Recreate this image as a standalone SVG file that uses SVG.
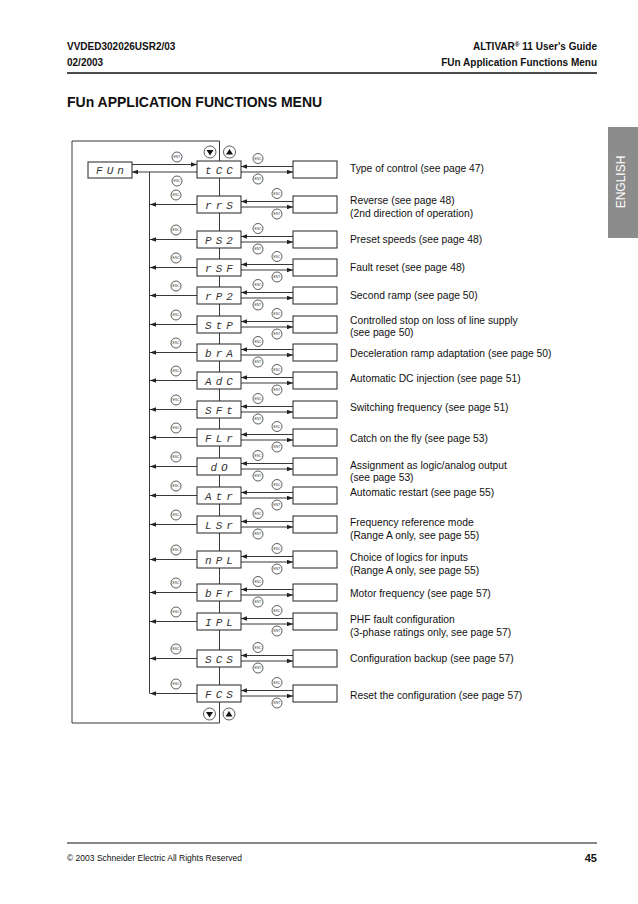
<svg xmlns="http://www.w3.org/2000/svg" width="638" height="904" viewBox="0 0 638 904">
<defs>
<marker id="ah" viewBox="0 0 8 6" markerUnits="userSpaceOnUse" markerWidth="6" markerHeight="4.5" refX="8" refY="3" orient="auto"><path d="M0,0 L8,3 L0,6 z" fill="#222"/></marker>
<style>
.box{fill:#fff;stroke:#222;stroke-width:1}
.ln{stroke:#222;stroke-width:0.9;fill:none}
.la{stroke:#222;stroke-width:0.9;fill:none;marker-end:url(#ah)}
.btn{fill:#fff;stroke:#333;stroke-width:0.8}
.bt{font-family:"Liberation Sans",Arial,sans-serif;font-size:3.4px;text-anchor:middle;fill:#333}
.seg{font-family:"Liberation Mono","Courier New",monospace;font-style:italic;font-size:11px;letter-spacing:4px;text-anchor:middle;fill:#333}
.lbl{font-family:"Liberation Sans",Arial,sans-serif;font-size:10.3px;fill:#111}
.hb{font-family:"Liberation Sans",Arial,sans-serif;font-size:10px;font-weight:bold;fill:#111}
</style>
</defs>
<rect width="638" height="904" fill="#fff"/>
<g id="header">
<text class="hb" x="67" y="50">VVDED302026USR2/03</text>
<text class="hb" x="67" y="66">02/2003</text>
<text class="hb" x="597" y="50" text-anchor="end">ALTIVAR<tspan font-size="6.5" dy="-3.5">®</tspan><tspan dy="3.5"> 11 User's Guide</tspan></text>
<text class="hb" x="597" y="66" text-anchor="end">FUn Application Functions Menu</text>
<line x1="67" y1="73" x2="597" y2="73" stroke="#111" stroke-width="1.5"/>
<text x="67" y="107" font-family="Liberation Sans,Arial,sans-serif" font-size="14" font-weight="bold" fill="#111">FUn APPLICATION FUNCTIONS MENU</text>
</g>
<g id="tab">
<rect x="608" y="127" width="30" height="111" fill="#8c8c8c"/>
<text x="624.5" y="182" transform="rotate(-90 624.5 182)" text-anchor="middle" font-family="Liberation Sans,Arial,sans-serif" font-size="12" fill="#fff">ENGLISH</text>
</g>
<g id="connectors">
<path class="ln" d="M219.5,161 V141 H72 V723 H219.5 V702"/>
<line class="ln" x1="219.5" y1="178" x2="219.5" y2="685"/>
<line class="ln" x1="149.5" y1="172" x2="149.5" y2="693.5"/>
<line class="la" x1="132" y1="164.5" x2="197" y2="164.5"/>
<line class="la" x1="197" y1="172" x2="132" y2="172"/>
<path class="la" d="M293,166.5 H241"/><path class="la" d="M241,172 H293"/>
<path class="la" d="M293,201.5 H241"/><path class="la" d="M241,207 H293"/><path class="la" d="M197,204.5 H150"/>
<path class="la" d="M293,236.5 H241"/><path class="la" d="M241,242 H293"/><path class="la" d="M197,239.5 H150"/>
<path class="la" d="M293,264.5 H241"/><path class="la" d="M241,270 H293"/><path class="la" d="M197,267.5 H150"/>
<path class="la" d="M293,292.5 H241"/><path class="la" d="M241,298 H293"/><path class="la" d="M197,295.5 H150"/>
<path class="la" d="M293,321.5 H241"/><path class="la" d="M241,327 H293"/><path class="la" d="M197,324.5 H150"/>
<path class="la" d="M293,349.5 H241"/><path class="la" d="M241,355 H293"/><path class="la" d="M197,352.5 H150"/>
<path class="la" d="M293,377.5 H241"/><path class="la" d="M241,383 H293"/><path class="la" d="M197,380.5 H150"/>
<path class="la" d="M293,406.5 H241"/><path class="la" d="M241,412 H293"/><path class="la" d="M197,409.5 H150"/>
<path class="la" d="M293,434.5 H241"/><path class="la" d="M241,440 H293"/><path class="la" d="M197,437.5 H150"/>
<path class="la" d="M293,463.5 H241"/><path class="la" d="M241,469 H293"/><path class="la" d="M197,466.5 H150"/>
<path class="la" d="M293,492.5 H241"/><path class="la" d="M241,498 H293"/><path class="la" d="M197,495.5 H150"/>
<path class="la" d="M293,521.5 H241"/><path class="la" d="M241,527 H293"/><path class="la" d="M197,524.5 H150"/>
<path class="la" d="M293,556.5 H241"/><path class="la" d="M241,562 H293"/><path class="la" d="M197,559.5 H150"/>
<path class="la" d="M293,589.5 H241"/><path class="la" d="M241,595 H293"/><path class="la" d="M197,592.5 H150"/>
<path class="la" d="M293,618.5 H241"/><path class="la" d="M241,624 H293"/><path class="la" d="M197,621.5 H150"/>
<path class="la" d="M293,655.5 H241"/><path class="la" d="M241,661 H293"/><path class="la" d="M197,658.5 H150"/>
<path class="la" d="M293,690.5 H241"/><path class="la" d="M241,696 H293"/><path class="la" d="M197,693.5 H150"/>
<g id="keys">
<circle class="btn" cx="210" cy="152" r="6"/><path d="M206.5,150 H213.5 L210,155.5 z" fill="#111"/>
<circle class="btn" cx="229.5" cy="152" r="6"/><path d="M226,154.5 H233 L229.5,149 z" fill="#111"/>
<circle class="btn" cx="209.5" cy="714" r="6"/><path d="M206,712 H213 L209.5,717.5 z" fill="#111"/>
<circle class="btn" cx="229" cy="714" r="6"/><path d="M225.5,716.5 H232.5 L229,711 z" fill="#111"/>
</g>
<g id="buttons">
<circle class="btn" cx="177" cy="157" r="5"/><text class="bt" x="177" y="158.2">ENT</text>
<circle class="btn" cx="177" cy="181" r="5"/><text class="bt" x="177" y="182.2">ESC</text>
<circle class="btn" cx="258" cy="158.5" r="5"/><text class="bt" x="258" y="159.7">ESC</text>
<circle class="btn" cx="258" cy="179" r="5"/><text class="bt" x="258" y="180.2">ENT</text>
<circle class="btn" cx="277" cy="193.5" r="5"/><text class="bt" x="277" y="194.7">ESC</text>
<circle class="btn" cx="277" cy="214" r="5"/><text class="bt" x="277" y="215.2">ENT</text>
<circle class="btn" cx="176" cy="195" r="5"/><text class="bt" x="176" y="196.2">ESC</text>
<circle class="btn" cx="258" cy="228.5" r="5"/><text class="bt" x="258" y="229.7">ESC</text>
<circle class="btn" cx="258" cy="249" r="5"/><text class="bt" x="258" y="250.2">ENT</text>
<circle class="btn" cx="176" cy="230" r="5"/><text class="bt" x="176" y="231.2">ESC</text>
<circle class="btn" cx="277" cy="256.5" r="5"/><text class="bt" x="277" y="257.7">ESC</text>
<circle class="btn" cx="277" cy="277" r="5"/><text class="bt" x="277" y="278.2">ENT</text>
<circle class="btn" cx="176" cy="258" r="5"/><text class="bt" x="176" y="259.2">ESC</text>
<circle class="btn" cx="258" cy="284.5" r="5"/><text class="bt" x="258" y="285.7">ESC</text>
<circle class="btn" cx="258" cy="305" r="5"/><text class="bt" x="258" y="306.2">ENT</text>
<circle class="btn" cx="176" cy="286" r="5"/><text class="bt" x="176" y="287.2">ESC</text>
<circle class="btn" cx="277" cy="313.5" r="5"/><text class="bt" x="277" y="314.7">ESC</text>
<circle class="btn" cx="277" cy="334" r="5"/><text class="bt" x="277" y="335.2">ENT</text>
<circle class="btn" cx="176" cy="315" r="5"/><text class="bt" x="176" y="316.2">ESC</text>
<circle class="btn" cx="258" cy="341.5" r="5"/><text class="bt" x="258" y="342.7">ESC</text>
<circle class="btn" cx="258" cy="362" r="5"/><text class="bt" x="258" y="363.2">ENT</text>
<circle class="btn" cx="176" cy="343" r="5"/><text class="bt" x="176" y="344.2">ESC</text>
<circle class="btn" cx="277" cy="369.5" r="5"/><text class="bt" x="277" y="370.7">ESC</text>
<circle class="btn" cx="277" cy="390" r="5"/><text class="bt" x="277" y="391.2">ENT</text>
<circle class="btn" cx="176" cy="371" r="5"/><text class="bt" x="176" y="372.2">ESC</text>
<circle class="btn" cx="258" cy="398.5" r="5"/><text class="bt" x="258" y="399.7">ESC</text>
<circle class="btn" cx="258" cy="419" r="5"/><text class="bt" x="258" y="420.2">ENT</text>
<circle class="btn" cx="176" cy="400" r="5"/><text class="bt" x="176" y="401.2">ESC</text>
<circle class="btn" cx="277" cy="426.5" r="5"/><text class="bt" x="277" y="427.7">ESC</text>
<circle class="btn" cx="277" cy="447" r="5"/><text class="bt" x="277" y="448.2">ENT</text>
<circle class="btn" cx="176" cy="428" r="5"/><text class="bt" x="176" y="429.2">ESC</text>
<circle class="btn" cx="258" cy="455.5" r="5"/><text class="bt" x="258" y="456.7">ESC</text>
<circle class="btn" cx="258" cy="476" r="5"/><text class="bt" x="258" y="477.2">ENT</text>
<circle class="btn" cx="176" cy="457" r="5"/><text class="bt" x="176" y="458.2">ESC</text>
<circle class="btn" cx="277" cy="484.5" r="5"/><text class="bt" x="277" y="485.7">ESC</text>
<circle class="btn" cx="277" cy="505" r="5"/><text class="bt" x="277" y="506.2">ENT</text>
<circle class="btn" cx="176" cy="486" r="5"/><text class="bt" x="176" y="487.2">ESC</text>
<circle class="btn" cx="258" cy="513.5" r="5"/><text class="bt" x="258" y="514.7">ESC</text>
<circle class="btn" cx="258" cy="534" r="5"/><text class="bt" x="258" y="535.2">ENT</text>
<circle class="btn" cx="176" cy="515" r="5"/><text class="bt" x="176" y="516.2">ESC</text>
<circle class="btn" cx="277" cy="548.5" r="5"/><text class="bt" x="277" y="549.7">ESC</text>
<circle class="btn" cx="277" cy="569" r="5"/><text class="bt" x="277" y="570.2">ENT</text>
<circle class="btn" cx="176" cy="550" r="5"/><text class="bt" x="176" y="551.2">ESC</text>
<circle class="btn" cx="258" cy="581.5" r="5"/><text class="bt" x="258" y="582.7">ESC</text>
<circle class="btn" cx="258" cy="602" r="5"/><text class="bt" x="258" y="603.2">ENT</text>
<circle class="btn" cx="176" cy="583" r="5"/><text class="bt" x="176" y="584.2">ESC</text>
<circle class="btn" cx="277" cy="610.5" r="5"/><text class="bt" x="277" y="611.7">ESC</text>
<circle class="btn" cx="277" cy="631" r="5"/><text class="bt" x="277" y="632.2">ENT</text>
<circle class="btn" cx="176" cy="612" r="5"/><text class="bt" x="176" y="613.2">ESC</text>
<circle class="btn" cx="258" cy="647.5" r="5"/><text class="bt" x="258" y="648.7">ESC</text>
<circle class="btn" cx="258" cy="668" r="5"/><text class="bt" x="258" y="669.2">ENT</text>
<circle class="btn" cx="176" cy="649" r="5"/><text class="bt" x="176" y="650.2">ESC</text>
<circle class="btn" cx="277" cy="682.5" r="5"/><text class="bt" x="277" y="683.7">ESC</text>
<circle class="btn" cx="277" cy="703" r="5"/><text class="bt" x="277" y="704.2">ENT</text>
<circle class="btn" cx="176" cy="684" r="5"/><text class="bt" x="176" y="685.2">ESC</text>
</g>
</g>
<g id="n-FUn"><rect class="box" x="88" y="162" width="44" height="16"/><text class="seg" x="112" y="174">FUn</text></g>
<g id="n-tCC"><rect class="box" x="197" y="161" width="44" height="17"/><text class="seg" x="221" y="173.5">tCC</text></g>
<g id="n-rrS"><rect class="box" x="197" y="196" width="44" height="17"/><text class="seg" x="221" y="208.5">rrS</text></g>
<g id="n-PS2"><rect class="box" x="197" y="231" width="44" height="17"/><text class="seg" x="221" y="243.5">PS2</text></g>
<g id="n-rSF"><rect class="box" x="197" y="259" width="44" height="17"/><text class="seg" x="221" y="271.5">rSF</text></g>
<g id="n-rP2"><rect class="box" x="197" y="287" width="44" height="17"/><text class="seg" x="221" y="299.5">rP2</text></g>
<g id="n-StP"><rect class="box" x="197" y="316" width="44" height="17"/><text class="seg" x="221" y="328.5">StP</text></g>
<g id="n-brA"><rect class="box" x="197" y="344" width="44" height="17"/><text class="seg" x="221" y="356.5">brA</text></g>
<g id="n-AdC"><rect class="box" x="197" y="372" width="44" height="17"/><text class="seg" x="221" y="384.5">AdC</text></g>
<g id="n-SFt"><rect class="box" x="197" y="401" width="44" height="17"/><text class="seg" x="221" y="413.5">SFt</text></g>
<g id="n-FLr"><rect class="box" x="197" y="429" width="44" height="17"/><text class="seg" x="221" y="441.5">FLr</text></g>
<g id="n-dO"><rect class="box" x="197" y="458" width="44" height="17"/><text class="seg" x="221" y="470.5">dO</text></g>
<g id="n-Atr"><rect class="box" x="197" y="487" width="44" height="17"/><text class="seg" x="221" y="499.5">Atr</text></g>
<g id="n-LSr"><rect class="box" x="197" y="516" width="44" height="17"/><text class="seg" x="221" y="528.5">LSr</text></g>
<g id="n-nPL"><rect class="box" x="197" y="551" width="44" height="17"/><text class="seg" x="221" y="563.5">nPL</text></g>
<g id="n-bFr"><rect class="box" x="197" y="584" width="44" height="17"/><text class="seg" x="221" y="596.5">bFr</text></g>
<g id="n-IPL"><rect class="box" x="197" y="613" width="44" height="17"/><text class="seg" x="221" y="625.5">IPL</text></g>
<g id="n-SCS"><rect class="box" x="197" y="650" width="44" height="17"/><text class="seg" x="221" y="662.5">SCS</text></g>
<g id="n-FCS"><rect class="box" x="197" y="685" width="44" height="17"/><text class="seg" x="221" y="697.5">FCS</text></g>
<g id="v-tCC"><rect class="box" x="293" y="161" width="44" height="17"/><text class="lbl" x="350" y="171.9">Type of control (see page 47)</text></g>
<g id="v-rrS"><rect class="box" x="293" y="196" width="44" height="17"/><text class="lbl" x="350" y="204.3">Reverse (see page 48)</text><text class="lbl" x="350" y="216.9">(2nd direction of operation)</text></g>
<g id="v-PS2"><rect class="box" x="293" y="231" width="44" height="17"/><text class="lbl" x="350" y="242.9">Preset speeds (see page 48)</text></g>
<g id="v-rSF"><rect class="box" x="293" y="259" width="44" height="17"/><text class="lbl" x="350" y="270.9">Fault reset (see page 48)</text></g>
<g id="v-rP2"><rect class="box" x="293" y="287" width="44" height="17"/><text class="lbl" x="350" y="299.3">Second ramp (see page 50)</text></g>
<g id="v-StP"><rect class="box" x="293" y="316" width="44" height="17"/><text class="lbl" x="350" y="323.6">Controlled stop on loss of line supply</text><text class="lbl" x="350" y="336.3">(see page 50)</text></g>
<g id="v-brA"><rect class="box" x="293" y="344" width="44" height="17"/><text class="lbl" x="350" y="356.9">Deceleration ramp adaptation (see page 50)</text></g>
<g id="v-AdC"><rect class="box" x="293" y="372" width="44" height="17"/><text class="lbl" x="350" y="381.9">Automatic DC injection (see page 51)</text></g>
<g id="v-SFt"><rect class="box" x="293" y="401" width="44" height="17"/><text class="lbl" x="350" y="411.3">Switching frequency (see page 51)</text></g>
<g id="v-FLr"><rect class="box" x="293" y="429" width="44" height="17"/><text class="lbl" x="350" y="441.9">Catch on the fly (see page 53)</text></g>
<g id="v-dO"><rect class="box" x="293" y="458" width="44" height="17"/><text class="lbl" x="350" y="468.6">Assignment as logic/analog output</text><text class="lbl" x="350" y="481.3">(see page 53)</text></g>
<g id="v-Atr"><rect class="box" x="293" y="487" width="44" height="17"/><text class="lbl" x="350" y="496.3">Automatic restart (see page 55)</text></g>
<g id="v-LSr"><rect class="box" x="293" y="516" width="44" height="17"/><text class="lbl" x="350" y="525.6">Frequency reference mode</text><text class="lbl" x="350" y="538.6">(Range A only, see page 55)</text></g>
<g id="v-nPL"><rect class="box" x="293" y="551" width="44" height="17"/><text class="lbl" x="350" y="560.6">Choice of logics for inputs</text><text class="lbl" x="350" y="573.6">(Range A only, see page 55)</text></g>
<g id="v-bFr"><rect class="box" x="293" y="584" width="44" height="17"/><text class="lbl" x="350" y="596.6">Motor frequency (see page 57)</text></g>
<g id="v-IPL"><rect class="box" x="293" y="613" width="44" height="17"/><text class="lbl" x="350" y="622.6">PHF fault configuration</text><text class="lbl" x="350" y="635.6">(3-phase ratings only, see page 57)</text></g>
<g id="v-SCS"><rect class="box" x="293" y="650" width="44" height="17"/><text class="lbl" x="350" y="661.6">Configuration backup (see page 57)</text></g>
<g id="v-FCS"><rect class="box" x="293" y="685" width="44" height="17"/><text class="lbl" x="350" y="698.6">Reset the configuration (see page 57)</text></g>
<g id="footer">
<line x1="67" y1="843" x2="597" y2="843" stroke="#111" stroke-width="1"/>
<text x="67" y="861" font-family="Liberation Sans,Arial,sans-serif" font-size="8.5" fill="#111">© 2003 Schneider Electric All Rights Reserved</text>
<text x="597" y="862" text-anchor="end" font-family="Liberation Sans,Arial,sans-serif" font-size="11" font-weight="bold" fill="#111">45</text>
</g>
</svg>
